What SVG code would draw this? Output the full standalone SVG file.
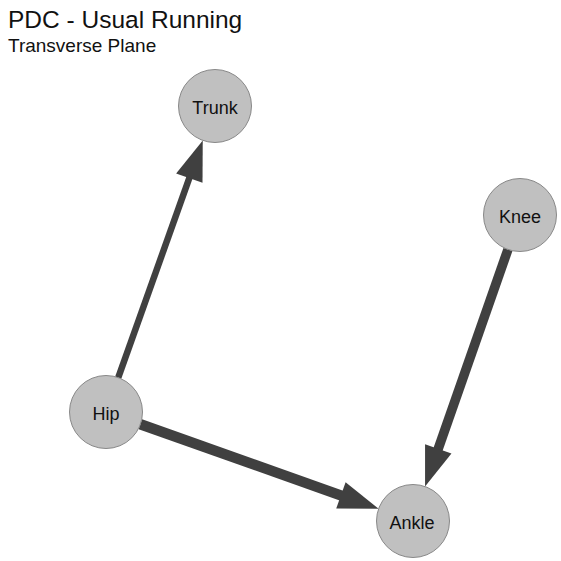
<svg xmlns="http://www.w3.org/2000/svg" width="561" height="561" viewBox="0 0 561 561">
<style>
.title{font-family:"Liberation Sans",Arial,sans-serif;font-size:24.5px;fill:#111}
.sub{font-family:"Liberation Sans",Arial,sans-serif;font-size:19px;fill:#111}
.node circle{fill:#c0c0c0;stroke:#888;stroke-width:1}
.node text{font-family:"Liberation Sans",Arial,sans-serif;font-size:18px;fill:#111;text-anchor:middle}
.edge{stroke:#404040;fill:none;stroke-linecap:butt}
</style>
<defs>
<marker id="arrow" markerUnits="userSpaceOnUse" markerWidth="40" markerHeight="28" refX="2" refY="14" orient="auto" overflow="visible">
<path d="M0,0 L40,14 L0,28 z" fill="#404040"/>
</marker>
</defs>
<rect width="561" height="561" fill="#fff"/>
<text class="title" x="8" y="28">PDC - Usual Running</text>
<text class="sub" x="8" y="52">Transverse Plane</text>
<g id="connectors">
<line id="e-hip-trunk" class="edge" x1="118.25" y1="377.61" x2="189.99" y2="176.19" stroke-width="6.5" marker-end="url(#arrow)"/>
<line id="e-hip-ankle" class="edge" x1="140.39" y1="424.21" x2="342.80" y2="496.08" stroke-width="10.5" marker-end="url(#arrow)"/>
<line id="e-knee-ankle" class="edge" x1="507.95" y1="249.45" x2="437.59" y2="450.68" stroke-width="9.5" marker-end="url(#arrow)"/>
</g>
<g id="trunk" class="node"><circle cx="215" cy="106" r="36.5"/><text x="215" y="114">Trunk</text></g>
<g id="knee" class="node"><circle cx="520" cy="215" r="36.5"/><text x="520" y="223">Knee</text></g>
<g id="hip" class="node"><circle cx="106" cy="412" r="36.5"/><text x="106" y="420">Hip</text></g>
<g id="ankle" class="node"><circle cx="413" cy="521" r="36.5"/><text x="412" y="529">Ankle</text></g>
</svg>
